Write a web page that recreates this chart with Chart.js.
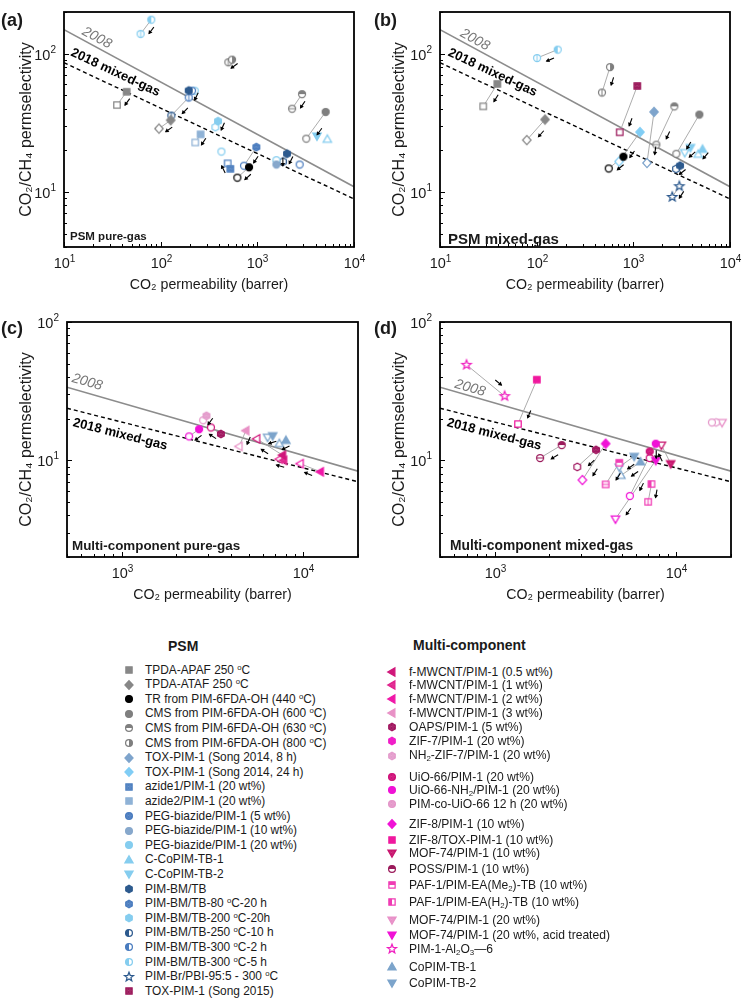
<!DOCTYPE html>
<html><head><meta charset="utf-8">
<script src="https://cdn.jsdelivr.net/npm/chart.js@4.4.1/dist/chart.umd.min.js"></script>
<style>
body{margin:0;background:#fff;width:746px;height:1000px;position:relative;overflow:hidden;font-family:'Liberation Sans',Arial,sans-serif;color:#1a1a1a;}
canvas.pc{position:absolute;}
.plab{position:absolute;font-weight:bold;font-size:18px;line-height:20px;}
.ilab{position:absolute;font-weight:bold;white-space:nowrap;line-height:1;}
.lg{position:absolute;white-space:nowrap;line-height:14px;}
.lgt{position:absolute;font-weight:bold;font-size:14px;white-space:nowrap;}
sup{font-size:65%;line-height:0;vertical-align:4px;}
sub{font-size:65%;line-height:0;vertical-align:-2px;}
</style></head><body>
<canvas class="pc" id="ca" width="373" height="305" style="left:0;top:0"></canvas>
<canvas class="pc" id="cb" width="373" height="305" style="left:373px;top:0"></canvas>
<canvas class="pc" id="cc" width="373" height="305" style="left:0;top:310px"></canvas>
<canvas class="pc" id="cd" width="373" height="305" style="left:373px;top:310px"></canvas>
<div class="plab" style="left:1px;top:10px">(a)</div>
<div class="plab" style="left:374px;top:10px">(b)</div>
<div class="plab" style="left:1px;top:318px">(c)</div>
<div class="plab" style="left:374px;top:318px">(d)</div>
<div class="ilab" style="left:70px;top:231px;font-size:11.5px">PSM pure-gas</div>
<div class="ilab" style="left:448px;top:231px;font-size:15px">PSM mixed-gas</div>
<div class="ilab" style="left:72px;top:539px;font-size:13.4px">Multi-component pure-gas</div>
<div class="ilab" style="left:450px;top:539px;font-size:13.8px">Multi-component mixed-gas</div>
<div class="lgt" style="left:168px;top:638px">PSM</div>
<div class="lgt" style="left:413px;top:637px">Multi-component</div>
<script>
const FONT = "'Liberation Sans', Arial, sans-serif";

// ---------- legend names ----------
const psmNames = ['TPDA-APAF 250 <sup>o</sup>C','TPDA-ATAF 250 <sup>o</sup>C','TR from PIM-6FDA-OH (440 <sup>o</sup>C)',
 'CMS from PIM-6FDA-OH (600 <sup>o</sup>C)','CMS from PIM-6FDA-OH (630 <sup>o</sup>C)','CMS from PIM-6FDA-OH (800 <sup>o</sup>C)',
 'TOX-PIM-1 (Song 2014, 8 h)','TOX-PIM-1 (Song 2014, 24 h)','azide1/PIM-1 (20 wt%)','azide2/PIM-1 (20 wt%)',
 'PEG-biazide/PIM-1 (5 wt%)','PEG-biazide/PIM-1 (10 wt%)','PEG-biazide/PIM-1 (20 wt%)','C-CoPIM-TB-1','C-CoPIM-TB-2',
 'PIM-BM/TB','PIM-BM/TB-80 <sup>o</sup>C-20 h','PIM-BM/TB-200 <sup>o</sup>C-20h','PIM-BM/TB-250 <sup>o</sup>C-10 h',
 'PIM-BM/TB-300 <sup>o</sup>C-2 h','PIM-BM/TB-300 <sup>o</sup>C-5 h','PIM-Br/PBI-95:5 - 300 <sup>o</sup>C','TOX-PIM-1 (Song 2015)'];
const multiNames = ['f-MWCNT/PIM-1 (0.5 wt%)','f-MWCNT/PIM-1 (1 wt%)','f-MWCNT/PIM-1 (2 wt%)','f-MWCNT/PIM-1 (3 wt%)',
 'OAPS/PIM-1 (5 wt%)','ZIF-7/PIM-1 (20 wt%)','NH<sub>2</sub>-ZIF-7/PIM-1 (20 wt%)','UiO-66/PIM-1 (20 wt%)',
 'UiO-66-NH<sub>2</sub>/PIM-1 (20 wt%)','PIM-co-UiO-66 12 h (20 wt%)','ZIF-8/PIM-1 (10 wt%)','ZIF-8/TOX-PIM-1 (10 wt%)',
 'MOF-74/PIM-1 (10 wt%)','POSS/PIM-1 (10 wt%)','PAF-1/PIM-EA(Me<sub>2</sub>)-TB (10 wt%)','PAF-1/PIM-EA(H<sub>2</sub>)-TB (10 wt%)',
 'MOF-74/PIM-1 (20 wt%)','MOF-74/PIM-1 (20 wt%, acid treated)','PIM-1-Al<sub>2</sub>O<sub>3</sub>—6','CoPIM-TB-1','CoPIM-TB-2'];

// ---------- marker styles ----------
const psmStyle = [
 ['square','#878787','fill'],['diamond','#878787','fill'],['circle','#000000','fill'],['circle','#7f7f7f','fill'],
 ['circle','#7f7f7f','halfT'],['circle','#7f7f7f','halfR'],['diamond','#7ea4cc','fill'],['diamond','#80cdf5','fill'],
 ['square','#4f80c0','tex'],['square','#8fb2d6','fill'],['circle','#4a7cbf','tex'],['circle','#87a8cc','fill'],
 ['circle','#85cdef','fill'],['triUp','#85cdef','fill'],['triDown','#85cdef','fill'],['hex','#2d5a8e','fill'],
 ['hex','#4a7cbf','tex'],['hex','#85cdef','fill'],['circle','#2d5a8e','halfL'],['circle','#4a7cbf','halfL'],
 ['circle','#85cdef','halfL'],['star','#2d5a8e','outline'],['square','#9c1a5c','tex']];
const multiStyle = [
 ['triLeft','#d0167a','fill'],['triLeft','#e0208c','tex'],['triLeft','#f018a8','fill'],['triLeft','#e891c6','fill'],
 ['hex','#a0155f','tex'],['hex','#f01ec8','fill'],['hex','#e49ccc','tex'],['circle','#cf1079','tex'],
 ['circle','#f012d6','fill'],['circle','#e496c9','tex'],['diamond','#f012d6','fill'],['square','#f0189e','fill'],
 ['triDown','#c8146e','tex'],['circle','#9b1a5b','halfT'],['square','#f03cb4','halfT'],['square','#f03cb4','halfL'],
 ['triDown','#e890c8','tex'],['triDown','#f012d6','fill'],['star','#f020c0','outline'],['triUp','#7ca4cb','fill'],
 ['triDown','#7ca4cb','fill']];

// ---------- data: [series, CO2 permeability (barrer), CO2/CH4 selectivity, open(1)/filled(0)] ----------
const psmPureGas = [
 [20,80,176,0],[20,62,139,1],[0,44.5,53,0],[0,35.3,42.5,1],[1,127,33,0],[1,96,28.7,1],
 [5,547,90.6,0],[5,501,86.7,1],[4,2900,51,0],[4,2290,40,1],[3,5090,37.9,0],[3,3210,24.3,1],
 [2,820,15.1,0],[2,621,12.7,1],[15,195,54.1,0],[19,211,54,0],[12,225,54,1],[19,195,48.2,1],[18,129,35.7,1],
 [17,392,32.5,0],[17,368,29.4,1],[9,259,26.1,0],[9,228,22.8,1],[12,425,19.6,1],[8,526,14.7,0],[8,493,16.1,1],
 [16,977,21.1,0],[10,728,15.5,1],[15,2028,18.9,0],[15,1845,16.6,1],[11,1574,15.8,0],[12,1574,17,1],
 [10,2742,15.8,1],[14,4140,25.4,0],[13,5300,24,1]];
const psmPureLinks = [
 [80,176,62,139],[44.5,53,35.3,42.5],[127,33,96,28.7],[547,90.6,501,86.7],[2900,51,2290,40],[5090,37.9,3210,24.3],
 [820,15.1,621,12.7],[195,48.2,129,35.7],[211,54,195,48.2],[392,32.5,368,29.4],[259,26.1,228,22.8],
 [526,14.7,493,16.1],[977,21.1,728,15.5],[2028,18.9,1845,16.6],[1574,17,1574,15.8]];
const psmMixedGas = [
 [20,165,107,0],[20,101,93,1],[5,574,80,0],[5,474,52.4,1],[0,39.2,60.4,0],[0,28,41.6,1],
 [1,122,33.4,0],[1,79,23.7,1],[22,1099,58.4,0],[22,723,27,1],[4,2655,41.6,0],[4,1730,22,1],
 [3,4820,36.3,0],[3,2786,18.9,1],[6,1637,37.9,0],[6,1383,16.2,1],[7,1172,27.1,0],[7,711,16.6,1],
 [2,789,18,0],[2,556,14.8,1],[14,3900,21,0],[14,3400,19.3,1],[13,5200,20.3,0],[13,4700,18.7,1],
 [15,3040,15.5,0],[15,2763,14.7,1],[21,2993,11,0],[21,2529,9.2,0]];
const psmMixedLinks = [
 [165,107,101,93],[574,80,474,52.4],[39.2,60.4,28,41.6],[122,33.4,79,23.7],[1099,58.4,723,27],
 [2655,41.6,1730,22],[4820,36.3,2786,18.9],[1637,37.9,1383,16.2],[1172,27.1,711,16.6],[789,18,556,14.8],
 [3900,21,3400,19.3],[5200,20.3,4700,18.7],[3040,15.5,2763,14.7],[2993,11,2529,9.2]];
const multiPureGas = [
 [6,2930,21,0],[9,2810,19.5,1],[8,2667,16.8,0],[8,2351,14.9,1],[4,3517,15.5,0],[7,3098,17.3,1],
 [3,4830,16.4,0],[3,4430,12.6,1],[0,7690,10.9,0],[0,5540,14.3,1],[1,7800,10.0,0],[1,7380,10.2,1],
 [2,12420,8.26,0],[2,9620,9.46,1],[20,6777,15.1,0],[20,6356,14.7,1],[19,8017,13.9,0],[19,7380,13.2,1]];
const multiPureLinks = [
 [2930,21,2810,19.5],[2667,16.8,2351,14.9],[3517,15.5,3098,17.3],[4830,16.4,4430,12.6],[7690,10.9,5540,14.3],
 [7800,10,7380,10.2],[12420,8.26,9620,9.46],[6777,15.1,6356,14.7],[8017,13.9,7380,13.2]];
const multiMixedGas = [
 [18,700,49,0],[18,1135,29.1,1],[11,1707,38.3,0],[11,1343,18.3,1],[13,2339,12.9,0],[13,1778,10.4,1],
 [4,3613,11.9,0],[4,2850,8.96,1],[10,4083,13.2,0],[10,3040,7.2,1],[14,4853,9.6,0],[14,4083,6.7,1],
 [15,7300,6.74,0],[15,6995,5.01,1],[20,5865,10.7,0],[20,4853,8.96,1],[19,6350,9.73,0],[19,4955,7.77,1],
 [7,7140,11.6,0],[7,7140,10.4,1],[8,7710,13.2,0],[8,5546,5.53,1],[17,7710,10,0],[17,4624,3.77,1],
 [12,9310,9.47,0],[12,8280,12.9,1],[9,15700,18.8,1],[6,16560,18.8,1],[16,17860,18.8,1]];
const multiMixedLinks = [
 [700,49,1135,29.1],[1707,38.3,1343,18.3],[2339,12.9,1778,10.4],[3613,11.9,2850,8.96],[4083,13.2,3040,7.2],
 [4853,9.6,4083,6.7],[7300,6.74,6995,5.01],[5865,10.7,4853,8.96],[6350,9.73,4955,7.77],[7140,11.6,7140,10.4],
 [7710,13.2,5546,5.53],[7710,10,4624,3.77],[9310,9.47,8280,12.9]];

// upper bounds (end points in log-log space)
const bound2008Psm = [[10,149],[10000,10.9]];
const bound2018Psm = [[10,86],[10000,8.9]];
const bound2008Multi = [[500,33.8],[20000,8.35]];
const bound2018Multi = [[500,23.8],[20000,7.0]];
const xRangePsm = [10,10000], yRangePsm = [4,200];
const xRangeMulti = [500,20000], yRangeMulti = [2,100];

// ---------- markers ----------
function shapePath(g, shape, r){
  g.beginPath();
  switch(shape){
    case 'circle': g.arc(0,0,r,0,Math.PI*2); break;
    case 'square': g.rect(-r*0.92,-r*0.92,r*1.84,r*1.84); break;
    case 'diamond': g.moveTo(0,-r*1.3); g.lineTo(r*1.2,0); g.lineTo(0,r*1.3); g.lineTo(-r*1.2,0); g.closePath(); break;
    case 'triUp': g.moveTo(0,-r*1.25); g.lineTo(r*1.2,r*0.85); g.lineTo(-r*1.2,r*0.85); g.closePath(); break;
    case 'triDown': g.moveTo(0,r*1.25); g.lineTo(r*1.2,-r*0.85); g.lineTo(-r*1.2,-r*0.85); g.closePath(); break;
    case 'triLeft': g.moveTo(-r*1.25,0); g.lineTo(r*0.85,-r*1.2); g.lineTo(r*0.85,r*1.2); g.closePath(); break;
    case 'hex': for(let k=0;k<6;k++){const a=Math.PI/6+k*Math.PI/3;const px=r*1.1*Math.cos(a),py=r*1.1*Math.sin(a);k?g.lineTo(px,py):g.moveTo(px,py);} g.closePath(); break;
    case 'star': for(let k=0;k<10;k++){const a=-Math.PI/2+k*Math.PI/5;const rr=k%2?r*0.6:r*1.4;const px=rr*Math.cos(a),py=rr*Math.sin(a);k?g.lineTo(px,py):g.moveTo(px,py);} g.closePath(); break;
  }
}
function makeMarker(st, open, r){
  const [shape,color,mode] = st;
  const s = Math.ceil(r*3.4)+2;
  const c = document.createElement('canvas'); c.width=s; c.height=s;
  const g = c.getContext('2d'); g.translate(s/2,s/2);
  g.lineWidth = 1.25; g.strokeStyle=color;
  shapePath(g,shape,r); g.fillStyle='#fff'; g.fill();
  if(!open){
    if(mode==='fill'||mode==='tex'){
      shapePath(g,shape,r); g.fillStyle=color; g.fill();
      if(mode==='tex'){
        g.save(); shapePath(g,shape,r); g.clip(); g.fillStyle='rgba(255,255,255,0.4)';
        for(let yy=-2*r,row=0;yy<2*r;yy+=1.5,row++) for(let xx=-2*r+(row%2?0.75:0);xx<2*r;xx+=1.5) g.fillRect(xx,yy,0.6,0.6);
        g.restore();
      }
    } else if(mode.startsWith('half')){
      g.save(); shapePath(g,shape,r); g.clip(); g.fillStyle=color;
      if(mode==='halfT') g.fillRect(-2*r,-2*r,4*r,2*r);
      if(mode==='halfL') g.fillRect(-2*r,-2*r,2*r,4*r);
      if(mode==='halfR') g.fillRect(0,-2*r,2*r,4*r);
      g.restore();
    }
  } else if(mode.startsWith('half')){
    g.beginPath();
    if(mode==='halfT'){g.moveTo(-r,0);g.lineTo(r,0);} else {g.moveTo(0,-r);g.lineTo(0,r);}
    g.lineWidth=1; g.stroke(); g.lineWidth=1.25;
  }
  shapePath(g,shape,r); g.stroke();
  return c;
}

// ---------- decorations plugin ----------
const isPow10 = v => Math.abs(Math.log10(v)-Math.round(Math.log10(v)))<1e-9;
const isIntSig = v => {const e=Math.floor(Math.log10(v)+1e-9);const s=v/Math.pow(10,e);return Math.abs(s-Math.round(s))<1e-6;};
function drawPow(ctx, exp, x, y, align){
  ctx.font='14.5px '+FONT; const w1=ctx.measureText('10').width;
  ctx.font='10px '+FONT; const w2=ctx.measureText(String(exp)).width;
  const x0 = align==='center'? x-(w1+w2)/2 : x-(w1+w2);
  ctx.fillStyle='#1a1a1a'; ctx.textAlign='left'; ctx.textBaseline='alphabetic';
  ctx.font='14.5px '+FONT; ctx.fillText('10',x0,y);
  ctx.font='10px '+FONT; ctx.fillText(String(exp),x0+w1,y-6.5);
}
function makeDeco(cfg){
  return {
    id:'deco',
    afterDatasetsDraw(chart){
      const ctx=chart.ctx, xs=chart.scales.x, ys=chart.scales.y, ca=chart.chartArea;
      ctx.save();
      ctx.beginPath(); ctx.rect(ca.left,ca.top,ca.right-ca.left,ca.bottom-ca.top); ctx.clip();
      ctx.strokeStyle='#000'; ctx.fillStyle='#000'; ctx.lineWidth=1.1;
      cfg.links.forEach(([p1,a1,p2,a2])=>{
        const x1=xs.getPixelForValue(p1), y1=ys.getPixelForValue(a1), x2=xs.getPixelForValue(p2), y2=ys.getPixelForValue(a2);
        let dx=x2-x1, dy=y2-y1; const L=Math.hypot(dx,dy); if(L<0.5) return; dx/=L; dy/=L;
        const px=dy, py=-dx;
        let cx, cy;
        if(L>28){cx=x2-dx*13; cy=y2-dy*13;} else {cx=(x1+x2)/2; cy=(y1+y2)/2;}
        cx+=px*6.5; cy+=py*6.5;
        const hl=4.5;
        ctx.beginPath(); ctx.moveTo(cx-dx*hl,cy-dy*hl); ctx.lineTo(cx+dx*(hl-1),cy+dy*(hl-1)); ctx.stroke();
        const hx=cx+dx*hl, hy=cy+dy*hl;
        ctx.beginPath(); ctx.moveTo(hx,hy); ctx.lineTo(hx-dx*3.8+px*2.2,hy-dy*3.8+py*2.2); ctx.lineTo(hx-dx*3.8-px*2.2,hy-dy*3.8-py*2.2); ctx.closePath(); ctx.fill();
      });
      const rot = (text,font,color,P,a,line)=>{
        const x=xs.getPixelForValue(P), y=ys.getPixelForValue(a);
        const ang=Math.atan2(ys.getPixelForValue(line[1][1])-ys.getPixelForValue(line[0][1]), xs.getPixelForValue(line[1][0])-xs.getPixelForValue(line[0][0]));
        ctx.save(); ctx.translate(x,y); ctx.rotate(ang); ctx.font=font; ctx.fillStyle=color; ctx.textAlign='center'; ctx.textBaseline='middle'; ctx.fillText(text,0,0); ctx.restore();
      };
      rot('2008','italic 14px '+FONT,'#777',cfg.t08[0],cfg.t08[1],cfg.b08);
      rot('2018 mixed-gas','bold 13px '+FONT,'#000',cfg.t18[0],cfg.t18[1],cfg.b18);
      ctx.restore();
    },
    afterDraw(chart){
      const ctx=chart.ctx, xs=chart.scales.x, ys=chart.scales.y, ca=chart.chartArea;
      ctx.save();
      ctx.strokeStyle='#000'; ctx.lineWidth=1;
      xs.ticks.map(t=>t.value).filter(v=>v>=xs.min-1e-9&&v<=xs.max+1e-9&&isIntSig(v)).forEach(v=>{
        const p=Math.round(xs.getPixelForValue(v))+0.5, L=isPow10(v)?5:3;
        ctx.beginPath(); ctx.moveTo(p,ca.bottom); ctx.lineTo(p,ca.bottom-L); ctx.stroke();
        if(isPow10(v)) drawPow(ctx,Math.round(Math.log10(v)),p,ca.bottom+21,'center');
      });
      ys.ticks.map(t=>t.value).filter(v=>v>=ys.min-1e-9&&v<=ys.max+1e-9&&isIntSig(v)).forEach(v=>{
        const p=Math.round(ys.getPixelForValue(v))+0.5, L=isPow10(v)?5:3;
        ctx.beginPath(); ctx.moveTo(ca.left,p); ctx.lineTo(ca.left+L,p); ctx.stroke();
        if(isPow10(v)) drawPow(ctx,Math.round(Math.log10(v)),ca.left-8,p+5,'right');
      });
      ctx.lineWidth=1.8;
      ctx.strokeRect(ca.left,ca.top,ca.right-ca.left,ca.bottom-ca.top);
      ctx.restore();
    }
  };
}

function buildPanel(id, cfg){
  const groups=new Map();
  cfg.pts.forEach(([s,P,a,o])=>{const k=s+'_'+o; if(!groups.has(k)) groups.set(k,{s,o,data:[]}); groups.get(k).data.push({x:P,y:a});});
  const ds=[];
  ds.push({type:'line',data:cfg.b08.map(([x,y])=>({x,y})),borderColor:'#8c8c8c',borderWidth:1.6,pointRadius:0,order:6});
  ds.push({type:'line',data:cfg.b18.map(([x,y])=>({x,y})),borderColor:'#000',borderDash:[4,3],borderWidth:1.4,pointRadius:0,order:6});
  cfg.links.forEach(l=>ds.push({type:'line',data:[{x:l[0],y:l[1]},{x:l[2],y:l[3]}],borderColor:'#a3a3a3',borderWidth:0.9,pointRadius:0,order:5}));
  groups.forEach(g=>ds.push({type:'scatter',data:g.data,pointStyle:makeMarker(cfg.styles[g.s],g.o===1,3.5),pointRadius:4,order:g.o?2:1}));
  new Chart(document.getElementById(id),{
    type:'scatter',
    data:{datasets:ds},
    options:{
      responsive:false, animation:false, events:[],
      layout:{padding:{left:0,top:12,right:cfg.rightPad,bottom:0}},
      plugins:{legend:{display:false},tooltip:{enabled:false}},
      scales:{
        x:{type:'logarithmic',min:cfg.xr[0],max:cfg.xr[1],position:'bottom',
           grid:{display:false,drawTicks:false},border:{display:false},ticks:{display:false},
           title:{display:true,text:'CO₂ permeability (barrer)',color:'#1a1a1a',font:{family:FONT,size:14.2},padding:{top:0,bottom:11.5}},
           afterFit:s=>{s.height=58;}},
        y:{type:'logarithmic',min:cfg.yr[0],max:cfg.yr[1],position:'left',
           grid:{display:false,drawTicks:false},border:{display:false},ticks:{display:false},
           title:{display:true,text:'CO₂/CH₄ permselectivity',color:'#1a1a1a',font:{family:FONT,size:16},padding:{top:17.4,bottom:0}},
           afterFit:s=>{s.width=cfg.leftW;}}
      }
    },
    plugins:[makeDeco(cfg)]
  });
}

buildPanel('ca',{styles:psmStyle,pts:psmPureGas,links:psmPureLinks,xr:xRangePsm,yr:yRangePsm,b08:bound2008Psm,b18:bound2018Psm,leftW:64,rightPad:19,t08:[21.9,130],t18:[34,73]});
buildPanel('cb',{styles:psmStyle,pts:psmMixedGas,links:psmMixedLinks,xr:xRangePsm,yr:yRangePsm,b08:bound2008Psm,b18:bound2018Psm,leftW:67,rightPad:16,t08:[23,126],t18:[35,73]});
buildPanel('cc',{styles:multiStyle,pts:multiPureGas,links:multiPureLinks,xr:xRangeMulti,yr:yRangeMulti,b08:bound2008Multi,b18:bound2018Multi,leftW:67,rightPad:15,t08:[646,36.7],t18:[981,15.4]});
buildPanel('cd',{styles:multiStyle,pts:multiMixedGas,links:multiMixedLinks,xr:xRangeMulti,yr:yRangeMulti,b08:bound2008Multi,b18:bound2018Multi,leftW:67,rightPad:15,t08:[732,33.3],t18:[993,15.4]});

// ---------- legends ----------
function addRow(style,name,mx,tx,y,fs){
  const m=makeMarker(style,false,3.4); m.style.position='absolute';
  m.style.left=(mx-m.width/2)+'px'; m.style.top=(y-m.height/2)+'px'; document.body.appendChild(m);
  const d=document.createElement('div'); d.className='lg'; d.style.left=tx+'px'; d.style.top=(y-7.5)+'px';
  d.style.fontSize=fs+'px'; d.innerHTML=name; document.body.appendChild(d);
}
psmNames.forEach((n,i)=>addRow(psmStyle[i],n,129,145,670+i*14.6,11.9));
const multiRowY=[672,685,699,713,727,741,755.5,777,790,804,824,840,853,869,885,902,920,935,949,967,983];
multiNames.forEach((n,i)=>addRow(multiStyle[i],n,392,409,multiRowY[i],12.1));
</script>
</body></html>
